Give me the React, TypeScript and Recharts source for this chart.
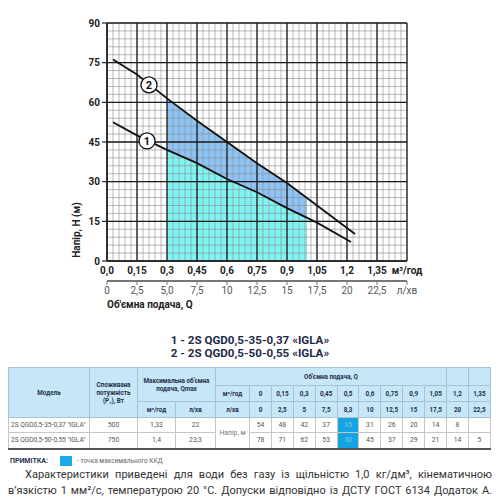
import React from 'react';
import {
  ComposedChart,
  Line,
  Area,
  XAxis,
  YAxis,
  CartesianGrid,
  ReferenceDot,
} from 'recharts';

// Head curves (Q in m³/h, H in m)
const curve1Q = [0.03, 0.15, 0.3, 0.45, 0.6, 0.75, 0.9, 1.05, 1.22];
const curve1H = [52.5, 47.5, 42, 37, 31, 26, 20, 14.5, 7.2];
const curve2Q = [0.03, 0.15, 0.3, 0.45, 0.6, 0.75, 0.9, 1.05, 1.2, 1.24];
const curve2H = [76.2, 70.5, 61.5, 53, 45, 37, 29.5, 21, 12.5, 10.2];

// shaded working range
const fillQ = [0.3, 0.45, 0.6, 0.75, 0.9, 1.0];
const fillH1 = [42, 37, 31, 26, 20, 16];
const fillH2 = [61.5, 53, 45, 37, 29.5, 23.5];

// circled curve numbers
const tagNames = ['1', '2'];
const tagQ = [0.2, 0.21];
const tagH = [45.4, 66.6];

const qTicks = [0, 0.15, 0.3, 0.45, 0.6, 0.75, 0.9, 1.05, 1.2, 1.35, 1.5];
const qTickLabels = ['0,0', '0,15', '0,3', '0,45', '0,6', '0,75', '0,9', '1,05', '1,2', '1,35', 'м³/год'];
const lminTicks = [0, 2.5, 5, 7.5, 10, 12.5, 15, 17.5, 20, 22.5, 25];
const lminTickLabels = ['0', '2,5', '5,0', '7,5', '10', '12,5', '15', '17,5', '20', '22,5', 'л/хв'];
const headTicks = [0, 15, 30, 45, 60, 75, 90];
const minorQTicks = Array.from({ length: 51 }, (_, i) => +(i * 0.03).toFixed(2));
const minorHTicks = Array.from({ length: 31 }, (_, i) => i * 3);
const Q_MAX = 1.5;
const L_MAX = 25;
const H_MAX = 90;

// table
const seriesNames = ['1 - 2S QGD0,5-35-0,37 «IGLA»', '2 - 2S QGD0,5-50-0,55 «IGLA»'];
const models = ['2S QGD0,5-35-0,37 "IGLA"', '2S QGD0,5-50-0,55 "IGLA"'];
const powerW = ['500', '750'];
const qmaxM3 = ['1,33', '1,4'];
const qmaxLmin = ['22', '23,3'];
const tableQ = ['0', '0,15', '0,3', '0,45', '0,5', '0,6', '0,75', '0,9', '1,05', '1,2', '1,35'];
const tableLmin = ['0', '2,5', '5', '7,5', '8,3', '10', '12,5', '15', '17,5', '20', '22,5'];
const tableHead = [
  ['54', '48', '42', '37', '35', '31', '26', '20', '14', '8', ''],
  ['78', '71', '62', '53', '50', '45', '37', '29', '21', '14', '5'],
];
const bestCol = 4;

const curve1 = curve1Q.map((q, i) => ({ q, h: curve1H[i] }));
const curve2 = curve2Q.map((q, i) => ({ q, h: curve2H[i] }));
const fillData = fillQ.map((q, i) => ({ q, low: fillH1[i], band: [fillH1[i], fillH2[i]] }));
// carrier for the l/min scale (draws nothing)
const lminCarrier = lminTicks.map((l) => ({ l, h: null }));

// grid positions from the plot box and the fixed domains
const minorVertical = ({ offset }: any) =>
  minorQTicks.map((v) => offset.left + (v / Q_MAX) * offset.width);
const minorHorizontal = ({ offset }: any) =>
  minorHTicks.map((v) => offset.top + offset.height - (v / H_MAX) * offset.height);
const majorVertical = ({ offset }: any) =>
  qTicks.map((v) => offset.left + (v / Q_MAX) * offset.width);
const majorHorizontal = ({ offset }: any) =>
  headTicks.map((v) => offset.top + offset.height - (v / H_MAX) * offset.height);

const YTitle = (props: any) => {
  const { x, y, height } = props.viewBox;
  const cx = x + 56;
  const cy = y + height - 31;
  return (
    <text x={cx} y={cy} transform={`rotate(-90 ${cx} ${cy})`} textAnchor="middle" dominantBaseline="central"
      fontSize={10} fontWeight={700} fill="#222">
      Напір, H (м)
    </text>
  );
};

const XTitle = (props: any) => {
  const { x, y } = props.viewBox;
  return (
    <text x={x} y={y + 27} fontSize={10} fontWeight={700} fill="#222">
      Об'ємна  подача, Q
    </text>
  );
};

const PumpChart = () => (
  <ComposedChart width={500} height={315} margin={{ top: 23, right: 93, bottom: 0, left: 20 }}>
    <XAxis
      xAxisId="q"
      dataKey="q"
      type="number"
      domain={[0, Q_MAX]}
      ticks={qTicks}
      interval={0}
      allowDataOverflow
      height={20}
      tickLine={false}
      tickSize={4}
      tickMargin={2}
      axisLine={{ stroke: '#222', strokeWidth: 1.5 }}
      tick={{ fill: '#222', fontSize: 10, fontWeight: 700 }}
      tickFormatter={(_v: number, i: number) => qTickLabels[i]}
    />
    <XAxis
      xAxisId="r"
      dataKey="l"
      type="number"
      domain={[0, L_MAX]}
      ticks={lminTicks}
      interval={0}
      allowDataOverflow
      height={34}
      tickSize={4}
      tickMargin={2}
      axisLine={{ stroke: '#777', strokeWidth: 2 }}
      tickLine={{ stroke: '#777', strokeWidth: 1 }}
      tick={{ fill: '#555', fontSize: 10 }}
      tickFormatter={(_v: number, i: number) => lminTickLabels[i]}
      label={<XTitle />}
    />
    <YAxis
      yAxisId="h"
      type="number"
      domain={[0, H_MAX]}
      ticks={headTicks}
      interval={0}
      allowDataOverflow
      width={87}
      tickSize={5}
      tickMargin={2}
      axisLine={{ stroke: '#222', strokeWidth: 1.5 }}
      tickLine={{ stroke: '#222', strokeWidth: 1.2 }}
      tick={{ fill: '#222', fontSize: 10, fontWeight: 700 }}
      label={<YTitle />}
    />

    <Area
      xAxisId="q"
      yAxisId="h"
      data={fillData}
      dataKey="low"
      type="linear"
      stroke="none"
      fill="#80F4F2"
      fillOpacity={1}
      isAnimationActive={false}
    />
    <Area
      xAxisId="q"
      yAxisId="h"
      data={fillData}
      dataKey="band"
      type="linear"
      stroke="none"
      fill="#8DC4F5"
      fillOpacity={1}
      isAnimationActive={false}
    />

    <CartesianGrid
      xAxisId="q"
      yAxisId="h"
      stroke="#8a8a8a"
      strokeWidth={0.6}
      verticalCoordinatesGenerator={minorVertical}
      horizontalCoordinatesGenerator={minorHorizontal}
      zIndex={150}
    />
    <CartesianGrid
      xAxisId="q"
      yAxisId="h"
      stroke="#1e1e1e"
      strokeWidth={1.3}
      verticalCoordinatesGenerator={majorVertical}
      horizontalCoordinatesGenerator={majorHorizontal}
      zIndex={160}
    />

    <Line xAxisId="r" yAxisId="h" data={lminCarrier} dataKey="h" stroke="none" dot={false}
      isAnimationActive={false} />
    <Line xAxisId="q" yAxisId="h" data={curve1} dataKey="h" type="linear" stroke="#111" strokeWidth={1.8}
      dot={false} isAnimationActive={false} />
    <Line xAxisId="q" yAxisId="h" data={curve2} dataKey="h" type="linear" stroke="#111" strokeWidth={1.8}
      dot={false} isAnimationActive={false} />

    {tagNames.map((name, i) => (
      <ReferenceDot
        key={name}
        xAxisId="q"
        yAxisId="h"
        x={tagQ[i]}
        y={tagH[i]}
        r={8}
        fill="#fff"
        stroke="#111"
        strokeWidth={1.3}
        label={{ value: name, position: 'center', fill: '#111', fontSize: 11, fontWeight: 700 }}
      />
    ))}
  </ComposedChart>
);

const thStyle: React.CSSProperties = {
  background: '#c7e6f7',
  color: '#1f2f4f',
  fontWeight: 700,
  fontSize: 6.3,
  lineHeight: '8px',
  border: '1px solid #a8c2d2',
  padding: 0,
  textAlign: 'center',
  whiteSpace: 'nowrap',
};

const tdStyle: React.CSSProperties = {
  color: '#555',
  fontSize: 6.8,
  lineHeight: '8px',
  border: '1px solid #c6c6c6',
  padding: 0,
  textAlign: 'center',
  background: '#fff',
  whiteSpace: 'nowrap',
};

const DataTable = () => (
  <table
    style={{
      position: 'absolute',
      left: 8,
      top: 367,
      width: 482,
      borderCollapse: 'collapse',
      tableLayout: 'fixed',
      borderTop: '1.5px solid #777',
      borderBottom: '2px solid #555',
    }}
  >
    <colgroup>
      <col style={{ width: 81 }} />
      <col style={{ width: 48 }} />
      <col style={{ width: 38 }} />
      <col style={{ width: 40 }} />
      <col style={{ width: 34 }} />
      {tableQ.map((q) => (
        <col key={q} style={{ width: 21.9 }} />
      ))}
    </colgroup>
    <tbody>
      <tr style={{ height: 18 }}>
        <th rowSpan={3} style={thStyle}>Модель</th>
        <th rowSpan={3} style={thStyle}>Споживана<br />потужність<br />(P₁), Вт</th>
        <th rowSpan={2} colSpan={2} style={thStyle}>Максимальна об'ємна<br />подача, Qmax</th>
        <th colSpan={10} style={thStyle}>Об'ємна подача, Q</th>
        <th style={thStyle}></th>
        <th style={thStyle}></th>
      </tr>
      <tr style={{ height: 16 }}>
        <th style={thStyle}>м³/год</th>
        {tableQ.map((q) => (
          <th key={q} style={thStyle}>{q}</th>
        ))}
      </tr>
      <tr style={{ height: 16 }}>
        <th style={thStyle}>м³/год</th>
        <th style={thStyle}>л/хв</th>
        <th style={thStyle}>л/хв</th>
        {tableLmin.map((l) => (
          <th key={l} style={thStyle}>{l}</th>
        ))}
      </tr>
      {models.map((m, r) => (
        <tr key={m} style={{ height: r === 0 ? 15 : 16 }}>
          <td style={{ ...tdStyle, textAlign: 'left', paddingLeft: 2, fontSize: 6.6 }}>{m}</td>
          <td style={tdStyle}>{powerW[r]}</td>
          <td style={tdStyle}>{qmaxM3[r]}</td>
          <td style={tdStyle}>{qmaxLmin[r]}</td>
          {r === 0 && (
            <td rowSpan={2} style={{ ...tdStyle, color: '#777' }}>Напір, м</td>
          )}
          {tableHead[r].map((v, c) => (
            <td
              key={c}
              style={c === bestCol ? { ...tdStyle, background: '#15a4e3', color: '#7cc6e6' } : tdStyle}
            >
              {v}
            </td>
          ))}
        </tr>
      ))}
    </tbody>
  </table>
);

export default function App() {
  return (
    <div
      style={{
        position: 'absolute',
        left: 0,
        top: 0,
        width: 500,
        height: 500,
        background: '#fff',
        fontFamily: 'Roboto, "Noto Sans", sans-serif',
        overflow: 'hidden',
      }}
    >
      <div style={{ position: 'absolute', left: 0, top: 0 }}>
        <PumpChart />
      </div>

      <div
        style={{
          position: 'absolute',
          left: 0,
          top: 334,
          width: 500,
          textAlign: 'center',
          fontWeight: 700,
          fontSize: 11.6,
          lineHeight: '13px',
          color: '#1e2a48',
        }}
      >
        {seriesNames.map((s) => (
          <div key={s}>{s}</div>
        ))}
      </div>

      <DataTable />

      <div style={{ position: 'absolute', left: 10, top: 455, height: 11, display: 'flex', alignItems: 'center' }}>
        <span style={{ fontSize: 7, fontWeight: 700, color: '#1f2f4f', width: 50 }}>ПРИМІТКА:</span>
        <span style={{ display: 'inline-block', width: 12, height: 10, background: '#1ba9e8' }} />
        <span style={{ fontSize: 6.5, color: '#666', marginLeft: 5 }}>- точка максимального ККД</span>
      </div>

      <div
        style={{
          position: 'absolute',
          left: 8,
          top: 467,
          width: 484,
          fontSize: 11,
          lineHeight: '16px',
          color: '#333',
        }}
      >
        <div style={{ textAlign: 'justify', textAlignLast: 'justify', paddingLeft: 17 }}>
          Характеристики приведені для води без газу із щільністю 1,0 кг/дм³, кінематичною
        </div>
        <div style={{ textAlign: 'justify', textAlignLast: 'justify' }}>
          в’язкістю 1 мм²/с, температурою 20 °С. Допуски відповідно із ДСТУ ГОСТ 6134 Додаток А.
        </div>
      </div>
    </div>
  );
}
